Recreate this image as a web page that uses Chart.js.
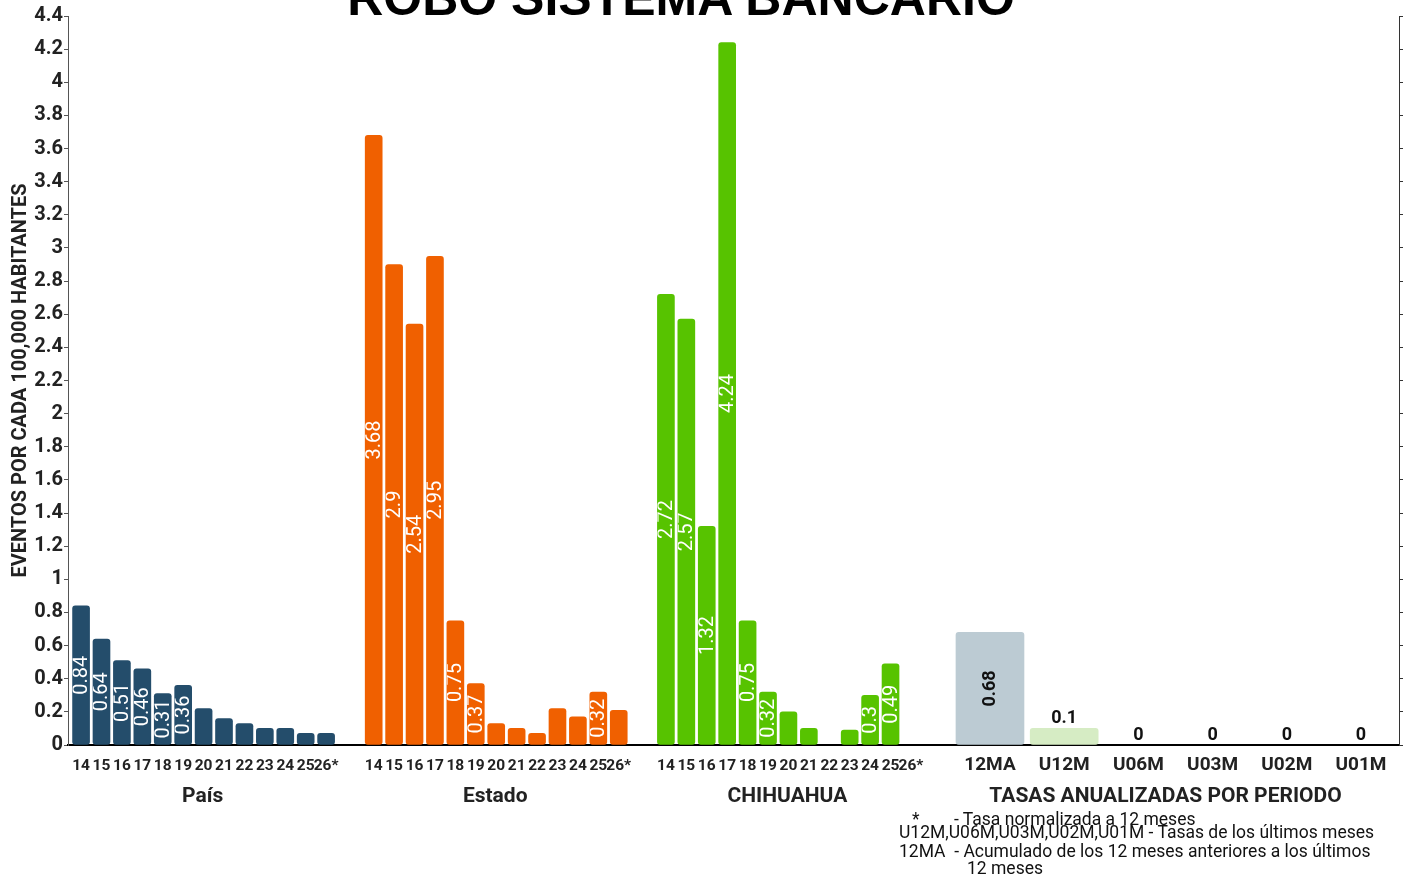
<!DOCTYPE html>
<html>
<head>
<meta charset="utf-8">
<script src="https://cdn.jsdelivr.net/npm/chart.js@4.4.1/dist/chart.umd.min.js"></script>
<style>
  body { margin: 0; background: #fff; }
  #wrap { position: relative; width: 1403px; height: 877px; overflow: hidden; }
  #titulo { position: absolute; left: 0; width: 1362px; top: -31px; text-align: center;
    font: bold 50px "Liberation Sans", Arial, sans-serif; color: #000; white-space: nowrap; }
  .nota { position: absolute; font: 17.5px Roboto, sans-serif; color: #111; white-space: nowrap; line-height: 1; }
</style>
</head>
<body>
<div id="wrap">
  <canvas id="grafica" width="1403" height="877"></canvas>
  <div id="titulo">ROBO SISTEMA BANCARIO</div>
  <div class="nota" style="left:912px; top:811px">*</div>
  <div class="nota" style="left:954px; top:811px">- Tasa normalizada a 12 meses</div>
  <div class="nota" style="left:899px; top:824px">U12M,U06M,U03M,U02M,U01M - Tasas de los últimos meses</div>
  <div class="nota" style="left:899px; top:843px">12MA&nbsp; - Acumulado de los 12 meses anteriores a los últimos</div>
  <div class="nota" style="left:967px; top:860px">12 meses</div>
</div>
<script>
// datos
const anios = ['14', '15', '16', '17', '18', '19', '20', '21', '22', '23', '24', '25', '26*'];
const pais = [0.84, 0.64, 0.51, 0.46, 0.31, 0.36, 0.22, 0.16, 0.13, 0.10, 0.10, 0.07, 0.07];
const estado = [3.68, 2.9, 2.54, 2.95, 0.75, 0.37, 0.13, 0.10, 0.07, 0.22, 0.17, 0.32, 0.21];
const chihuahua = [2.72, 2.57, 1.32, 4.24, 0.75, 0.32, 0.20, 0.10, 0, 0.09, 0.3, 0.49, 0];
const grupos = ['País', 'Estado', 'CHIHUAHUA'];
const periodos = ['12MA', 'U12M', 'U06M', 'U03M', 'U02M', 'U01M'];
const tasas = [0.68, 0.1, 0, 0, 0, 0];
const tituloTasas = 'TASAS ANUALIZADAS POR PERIODO';
const yTicksMax = 4.4;

// posiciones de cada grupo en el eje x (en "ranuras")
const inicioGrupo = [0.64, 14.97, 29.28];
const inicioTasas = 45.15;
const pasoTasas = 3.634;
const xMax = 65.18;

const colores = ['#244d6b', '#f06000', '#57c300'];
const coloresTasas = ['#bccbd3', '#d6ecc4', '#d6ecc4', '#d6ecc4', '#d6ecc4', '#d6ecc4'];

// las barras en cero no se dibujan
const colorSiNoCero = (c) => (ctx) => (ctx.raw && ctx.raw.y > 0 ? (Array.isArray(c) ? c[ctx.dataIndex] : c) : 'rgba(0,0,0,0)');

const series = [pais, estado, chihuahua];
const datasets = series.map((serie, g) => ({
  label: grupos[g],
  data: serie.map((v, i) => ({ x: inicioGrupo[g] + i, y: v })),
  backgroundColor: colorSiNoCero(colores[g]),
  barThickness: 17,
  borderRadius: 3,
  borderSkipped: false,
  grouped: false,
}));
datasets.push({
  label: tituloTasas,
  data: tasas.map((v, k) => ({ x: inicioTasas + pasoTasas * k, y: v })),
  backgroundColor: colorSiNoCero(coloresTasas),
  barThickness: 68,
  borderRadius: 3,
  borderSkipped: false,
  grouped: false,
});

const etiquetas = {
  id: 'etiquetas',
  afterDatasetsDraw(chart) {
    const ctx = chart.ctx;
    chart.data.datasets.forEach((ds, di) => {
      const meta = chart.getDatasetMeta(di);
      meta.data.forEach((bar, i) => {
        const v = ds.data[i].y;
        const { x, y, base, width } = bar.getProps(['x', 'y', 'base', 'width'], true);
        const txt = String(v);
        ctx.save();
        if (di < 3) {
          if (v <= 0) { ctx.restore(); return; }
          ctx.font = '20px Roboto';
          ctx.fillStyle = '#fff';
          ctx.textBaseline = 'middle';
          const w = ctx.measureText(txt).width;
          // si no cabe en la barra queda blanco sobre blanco: no se ve
          if (base - y >= w + 6) {
            ctx.beginPath();
            ctx.rect(x - width / 2, y, width, base - y);
            ctx.clip();
            ctx.translate(x, (y + base) / 2);
            ctx.rotate(-Math.PI / 2);
            ctx.textAlign = 'center';
            ctx.fillText(txt, 0, 1);
          }
        } else {
          ctx.font = 'bold 18px Roboto';
          ctx.fillStyle = '#111';
          ctx.textAlign = 'center';
          const w = ctx.measureText(txt).width;
          if (base - y > w + 10) {
            ctx.translate(x, (y + base) / 2);
            ctx.rotate(-Math.PI / 2);
            ctx.textBaseline = 'middle';
            ctx.fillText(txt, 0, 1);
          } else {
            ctx.textBaseline = 'bottom';
            ctx.fillText(txt, x, y - 1);
          }
        }
        ctx.restore();
      });
    });

    // etiquetas del eje x
    const sx = chart.scales.x;
    const yBase = chart.chartArea.bottom;
    ctx.save();
    ctx.fillStyle = '#222';
    ctx.textAlign = 'center';
    ctx.textBaseline = 'middle';
    ctx.font = 'bold 15.5px Roboto';
    inicioGrupo.forEach((ini) => {
      anios.forEach((a, i) => ctx.fillText(a, sx.getPixelForValue(ini + i), yBase + 21));
    });
    ctx.font = 'bold 19px Roboto';
    periodos.forEach((p, k) => ctx.fillText(p, sx.getPixelForValue(inicioTasas + pasoTasas * k), yBase + 20));
    ctx.font = 'bold 21px Roboto';
    grupos.forEach((gname, g) => {
      const c = (sx.getPixelForValue(inicioGrupo[g]) + sx.getPixelForValue(inicioGrupo[g] + anios.length - 1)) / 2;
      ctx.fillText(gname, c - 1, yBase + 52);
    });
    const cT = (sx.getPixelForValue(inicioTasas) + sx.getPixelForValue(inicioTasas + pasoTasas * (periodos.length - 1))) / 2;
    ctx.fillText(tituloTasas, cT - 10, yBase + 52);
    ctx.restore();
  }
};

new Chart(document.getElementById('grafica'), {
  type: 'bar',
  data: { datasets },
  options: {
    responsive: false,
    animation: false,
    layout: { padding: { top: 16, left: 0, right: 0, bottom: 0 } },
    plugins: { legend: { display: false }, tooltip: { enabled: false } },
    scales: {
      x: {
        type: 'linear',
        offset: false,
        min: 0,
        max: xMax,
        ticks: { display: false },
        grid: { drawOnChartArea: false, drawTicks: false, offset: false },
        border: { display: true, color: '#000', width: 2 },
        afterFit: (s) => { s.height = 132; },
      },
      y: {
        min: 0,
        max: yTicksMax,
        ticks: {
          stepSize: 0.2,
          color: '#222',
          font: { family: 'Roboto', weight: 'bold', size: 20 },
          padding: 1,
          callback: (v) => String(Math.round(v * 10) / 10),
        },
        grid: { drawOnChartArea: false, tickLength: 4, color: '#555' },
        border: { color: '#555', width: 1 },
        title: {
          display: true,
          text: 'EVENTOS POR CADA 100,000 HABITANTES',
          color: '#222',
          font: { family: 'Roboto', weight: 'bold', size: 20 },
          padding: { top: 9, bottom: 0 },
        },
        afterFit: (s) => { s.width = 68; },
      },
      y2: {
        position: 'right',
        min: 0,
        max: yTicksMax,
        ticks: { display: false, stepSize: 0.2 },
        grid: { drawOnChartArea: false, tickLength: 4, color: '#333' },
        border: { color: '#333', width: 1 },
        afterFit: (s) => { s.width = 4; },
      },
    },
  },
  plugins: [etiquetas],
});
</script>
</body>
</html>
